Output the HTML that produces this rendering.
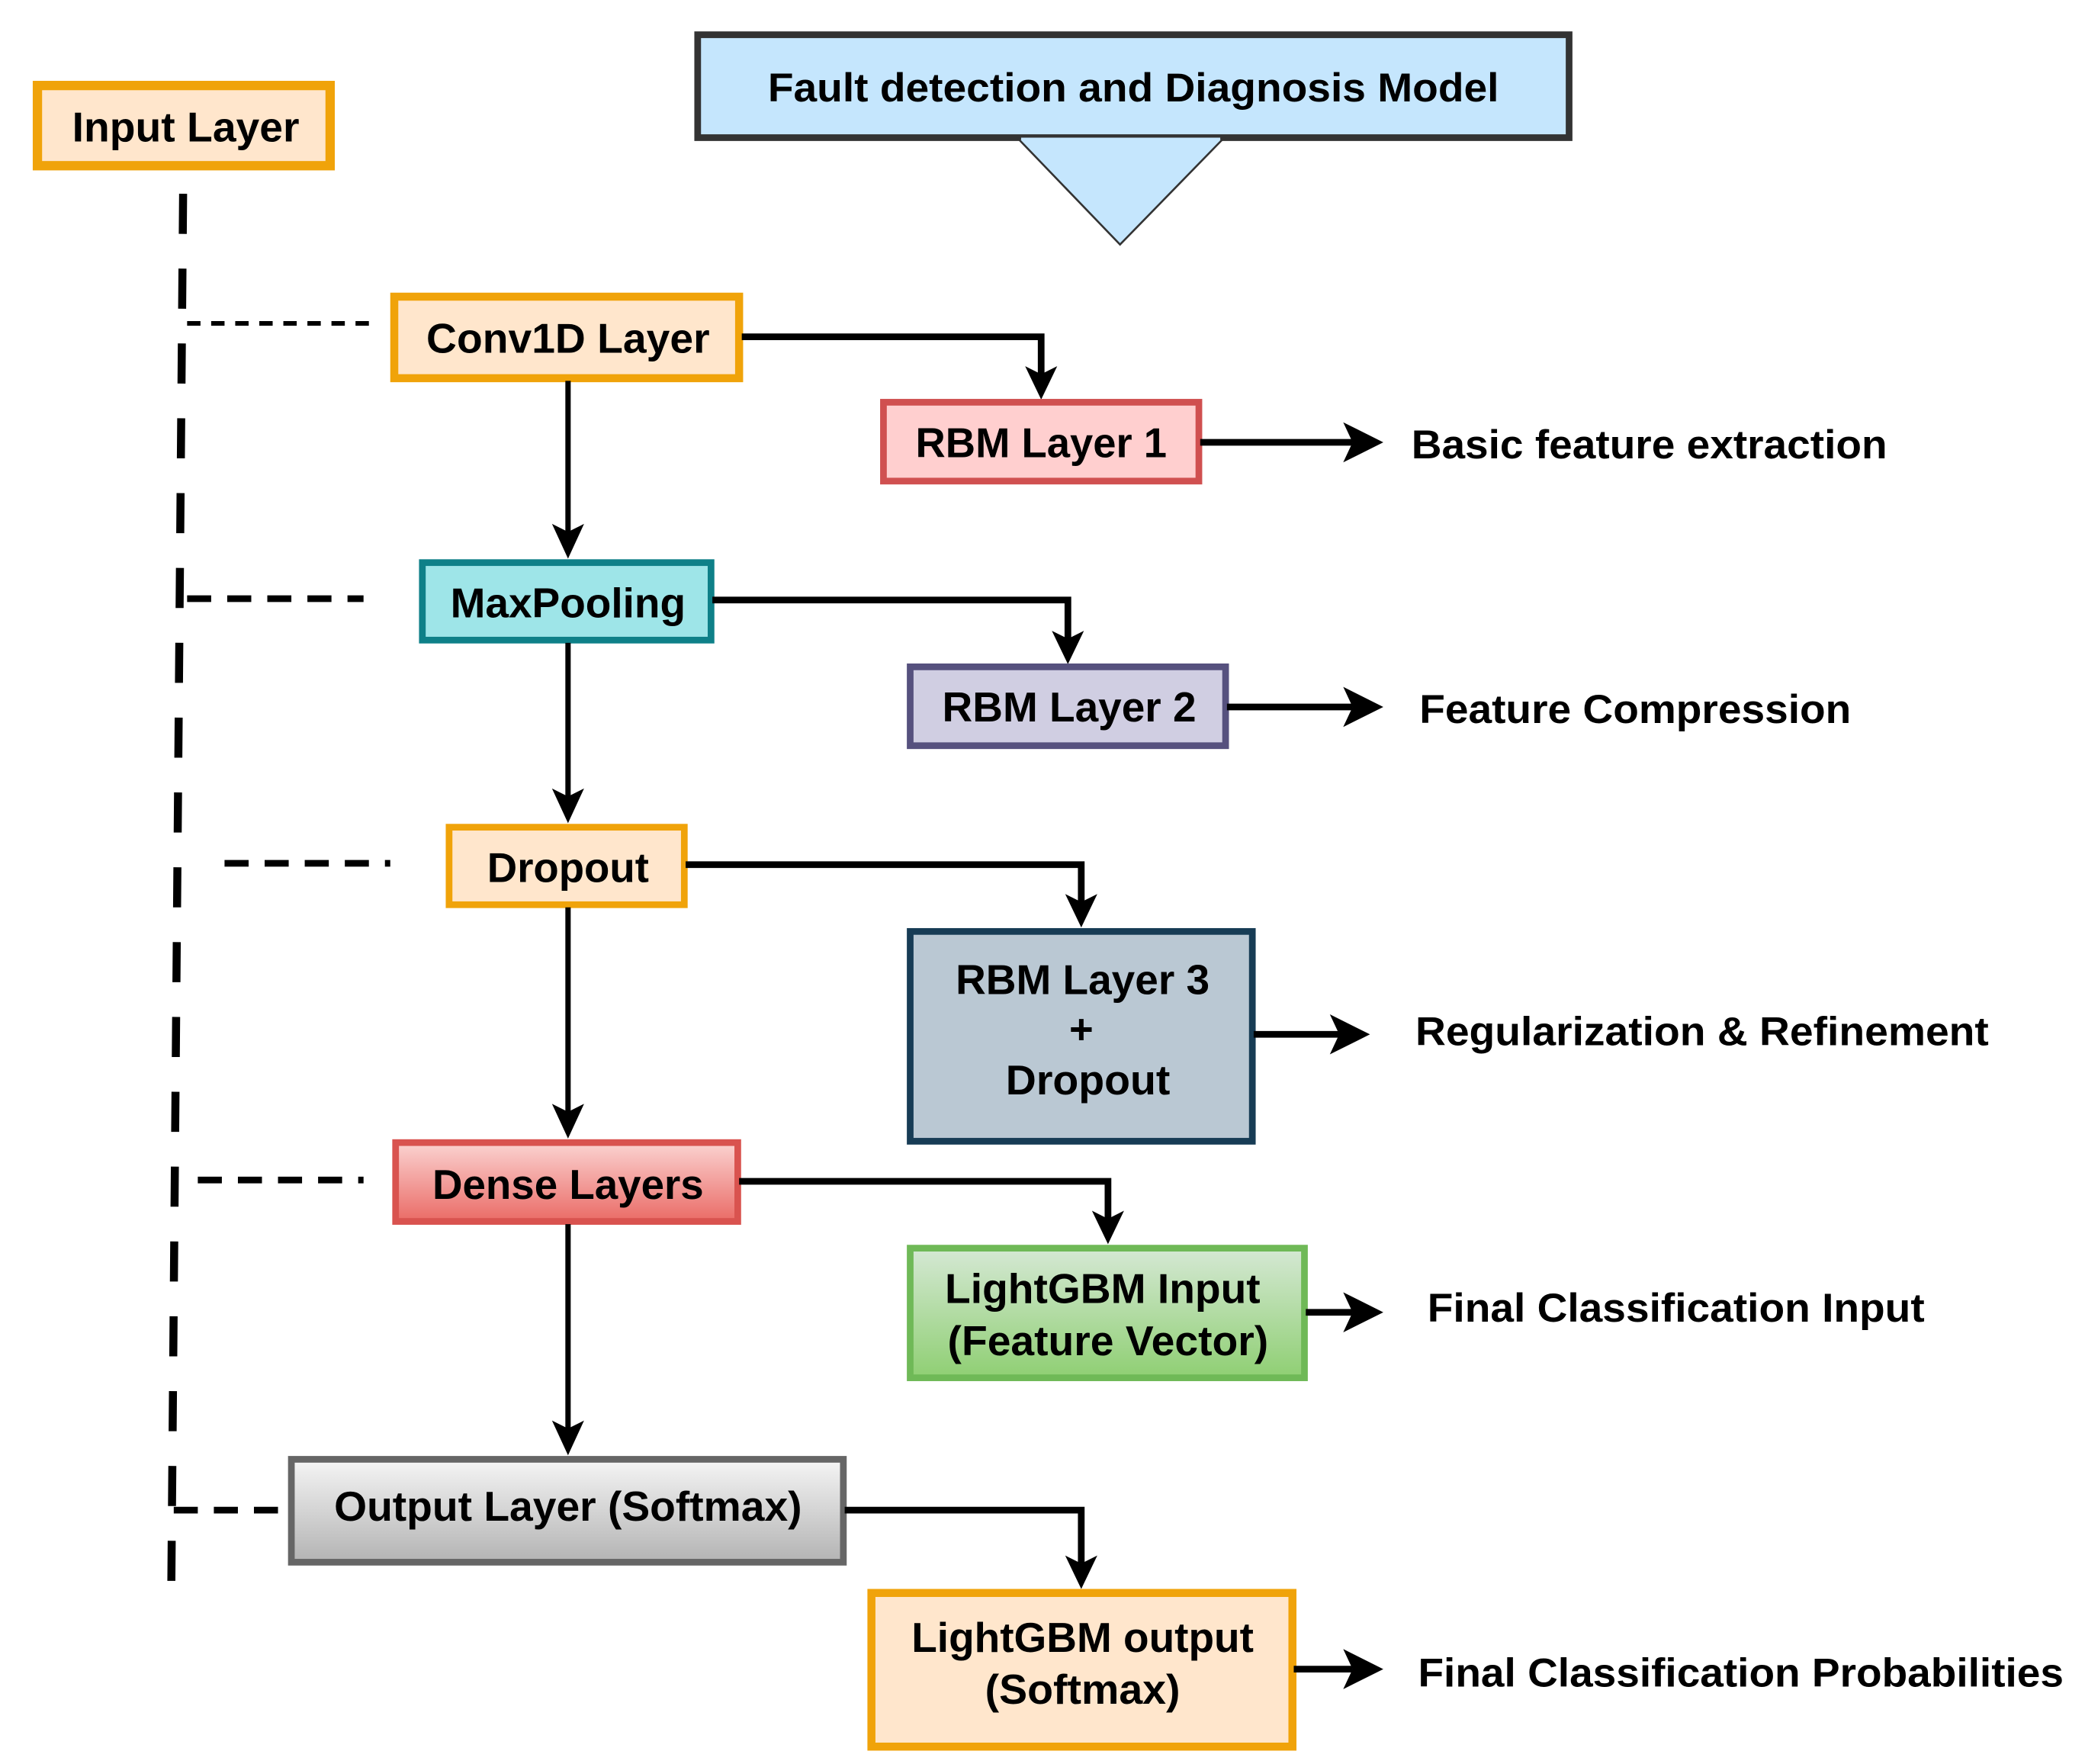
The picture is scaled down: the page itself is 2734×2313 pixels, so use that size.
<!DOCTYPE html>
<html><head><meta charset="utf-8"><style>html,body{margin:0;padding:0;background:#fff}svg{display:block}</style></head>
<body>
<svg width="2734" height="2313" viewBox="0 0 1560 1320" preserveAspectRatio="none" xmlns="http://www.w3.org/2000/svg" font-family="Liberation Sans, Arial, sans-serif" font-weight="bold">
<defs>
<linearGradient id="gr" x1="0" y1="0" x2="0" y2="1"><stop offset="0" stop-color="#fbd3d1"/><stop offset="1" stop-color="#ea6b66"/></linearGradient>
<linearGradient id="gg" x1="0" y1="0" x2="0" y2="1"><stop offset="0" stop-color="#f5f5f5"/><stop offset="1" stop-color="#b3b3b3"/></linearGradient>
<linearGradient id="ggr" x1="0" y1="0" x2="0" y2="1"><stop offset="0" stop-color="#d5e8d4"/><stop offset="1" stop-color="#8fcf73"/></linearGradient>
</defs>
<rect x="522" y="26" width="652" height="77" fill="#c5e6fd" stroke="#333" stroke-width="5"/>
<polygon points="762,104 915,104 838,183" fill="#c5e6fd" stroke="#333" stroke-width="1.5"/>
<line x1="764" y1="104" x2="913" y2="104" stroke="#c5e6fd" stroke-width="2"/>
<text x="848" y="76" font-size="30" text-anchor="middle" textLength="547" lengthAdjust="spacingAndGlyphs">Fault detection and Diagnosis Model</text>
<rect x="28" y="64" width="219" height="60" fill="#ffe6cc" stroke="#f0a30a" stroke-width="7"/>
<text x="139" y="106" font-size="31" text-anchor="middle" textLength="170" lengthAdjust="spacingAndGlyphs">Input Layer</text>
<line x1="137" y1="145" x2="128" y2="1208" stroke="#000" stroke-width="6" stroke-dasharray="30,26"/>
<line x1="140" y1="242" x2="280" y2="242" stroke="#000" stroke-width="3.5" stroke-dasharray="10,8"/>
<line x1="140" y1="448" x2="272" y2="448" stroke="#000" stroke-width="5" stroke-dasharray="18,12"/>
<line x1="168" y1="646" x2="292" y2="646" stroke="#000" stroke-width="5" stroke-dasharray="18,12"/>
<line x1="148" y1="883" x2="272" y2="883" stroke="#000" stroke-width="5" stroke-dasharray="18,12"/>
<line x1="130" y1="1130" x2="215" y2="1130" stroke="#000" stroke-width="5" stroke-dasharray="18,12"/>
<rect x="295" y="222" width="258" height="61" fill="#ffe6cc" stroke="#f0a30a" stroke-width="6"/>
<text x="425" y="264" font-size="31" text-anchor="middle" textLength="212" lengthAdjust="spacingAndGlyphs">Conv1D Layer</text>
<rect x="316" y="421" width="216" height="58" fill="#9ee5e8" stroke="#0e8088" stroke-width="5"/>
<text x="425" y="462" font-size="31" text-anchor="middle" textLength="176" lengthAdjust="spacingAndGlyphs">MaxPooling</text>
<rect x="336" y="619" width="176" height="58" fill="#ffe6cc" stroke="#f0a30a" stroke-width="5"/>
<text x="425" y="660" font-size="31" text-anchor="middle" textLength="121" lengthAdjust="spacingAndGlyphs">Dropout</text>
<rect x="296" y="855" width="256" height="59" fill="url(#gr)" stroke="#d9534f" stroke-width="5"/>
<text x="425" y="897" font-size="31" text-anchor="middle" textLength="203" lengthAdjust="spacingAndGlyphs">Dense Layers</text>
<rect x="218" y="1092" width="413" height="77" fill="url(#gg)" stroke="#666" stroke-width="5"/>
<text x="425" y="1138" font-size="31" text-anchor="middle" textLength="350" lengthAdjust="spacingAndGlyphs">Output Layer (Softmax)</text>
<g stroke="#000" stroke-width="4">
<line x1="425" y1="285" x2="425" y2="400"/>
<line x1="425" y1="481" x2="425" y2="598"/>
<line x1="425" y1="679" x2="425" y2="835"/>
<line x1="425" y1="916" x2="425" y2="1072"/>
</g>
<g fill="#000">
<polygon points="413,392 425,418 437,392 425,398"/>
<polygon points="413,590 425,616 437,590 425,596"/>
<polygon points="413,826 425,852 437,826 425,832"/>
<polygon points="413,1063 425,1089 437,1063 425,1069"/>
</g>
<g stroke="#000" stroke-width="5" fill="none">
<polyline points="555,252 779,252 779,282"/>
<polyline points="533,449 799,449 799,480"/>
<polyline points="513,647 809,647 809,677"/>
<polyline points="553,884 829,884 829,914"/>
<polyline points="632,1130 809,1130 809,1170"/>
</g>
<g fill="#000">
<polygon points="767,274 779,299 791,274 779,280"/>
<polygon points="787,472 799,497 811,472 799,478"/>
<polygon points="797,669 809,694 821,669 809,675"/>
<polygon points="817,906 829,931 841,906 829,912"/>
<polygon points="797,1164 809,1189 821,1164 809,1170"/>
</g>
<rect x="661" y="301" width="236" height="59" fill="#ffcfcf" stroke="#d05050" stroke-width="5"/>
<text x="779" y="342" font-size="31" text-anchor="middle" textLength="188" lengthAdjust="spacingAndGlyphs">RBM Layer 1</text>
<rect x="681" y="499" width="236" height="59" fill="#d0cee2" stroke="#56517e" stroke-width="5"/>
<text x="800" y="540" font-size="31" text-anchor="middle" textLength="190" lengthAdjust="spacingAndGlyphs">RBM Layer 2</text>
<rect x="681" y="697" width="256" height="157" fill="#bac8d3" stroke="#173c55" stroke-width="5"/>
<text x="810" y="744" font-size="31" text-anchor="middle" textLength="190" lengthAdjust="spacingAndGlyphs">RBM Layer 3</text>
<text x="809" y="781" font-size="31" text-anchor="middle">+</text>
<text x="814" y="819" font-size="31" text-anchor="middle" textLength="123" lengthAdjust="spacingAndGlyphs">Dropout</text>
<rect x="681" y="934" width="295" height="97" fill="url(#ggr)" stroke="#6fb957" stroke-width="5"/>
<text x="825" y="975" font-size="31" text-anchor="middle" textLength="236" lengthAdjust="spacingAndGlyphs">LightGBM Input</text>
<text x="829" y="1014" font-size="31" text-anchor="middle" textLength="240" lengthAdjust="spacingAndGlyphs">(Feature Vector)</text>
<rect x="652" y="1192" width="315" height="115" fill="#ffe6cc" stroke="#f0a30a" stroke-width="6"/>
<text x="810" y="1236" font-size="31" text-anchor="middle" textLength="256" lengthAdjust="spacingAndGlyphs">LightGBM output</text>
<text x="810" y="1275" font-size="31" text-anchor="middle" textLength="146" lengthAdjust="spacingAndGlyphs">(Softmax)</text>
<g stroke="#000" stroke-width="5">
<line x1="898" y1="331" x2="1012" y2="331"/>
<line x1="918" y1="529" x2="1012" y2="529"/>
<line x1="938" y1="774" x2="1002" y2="774"/>
<line x1="977" y1="982" x2="1012" y2="982"/>
<line x1="968" y1="1249" x2="1012" y2="1249"/>
</g>
<g fill="#000">
<polygon points="1005,316 1035,331 1005,346 1012,331"/>
<polygon points="1005,514 1035,529 1005,544 1012,529"/>
<polygon points="995,759 1025,774 995,789 1002,774"/>
<polygon points="1005,967 1035,982 1005,997 1012,982"/>
<polygon points="1005,1234 1035,1249 1005,1264 1012,1249"/>
</g>
<g font-size="30">
<text x="1056" y="343" textLength="356" lengthAdjust="spacingAndGlyphs">Basic feature extraction</text>
<text x="1062" y="541" textLength="323" lengthAdjust="spacingAndGlyphs">Feature Compression</text>
<text x="1059" y="782" textLength="429" lengthAdjust="spacingAndGlyphs">Regularization &amp; Refinement</text>
<text x="1068" y="989" textLength="372" lengthAdjust="spacingAndGlyphs">Final Classification Input</text>
<text x="1061" y="1262" textLength="483" lengthAdjust="spacingAndGlyphs">Final Classification Probabilities</text>
</g>
</svg>
</body></html>
